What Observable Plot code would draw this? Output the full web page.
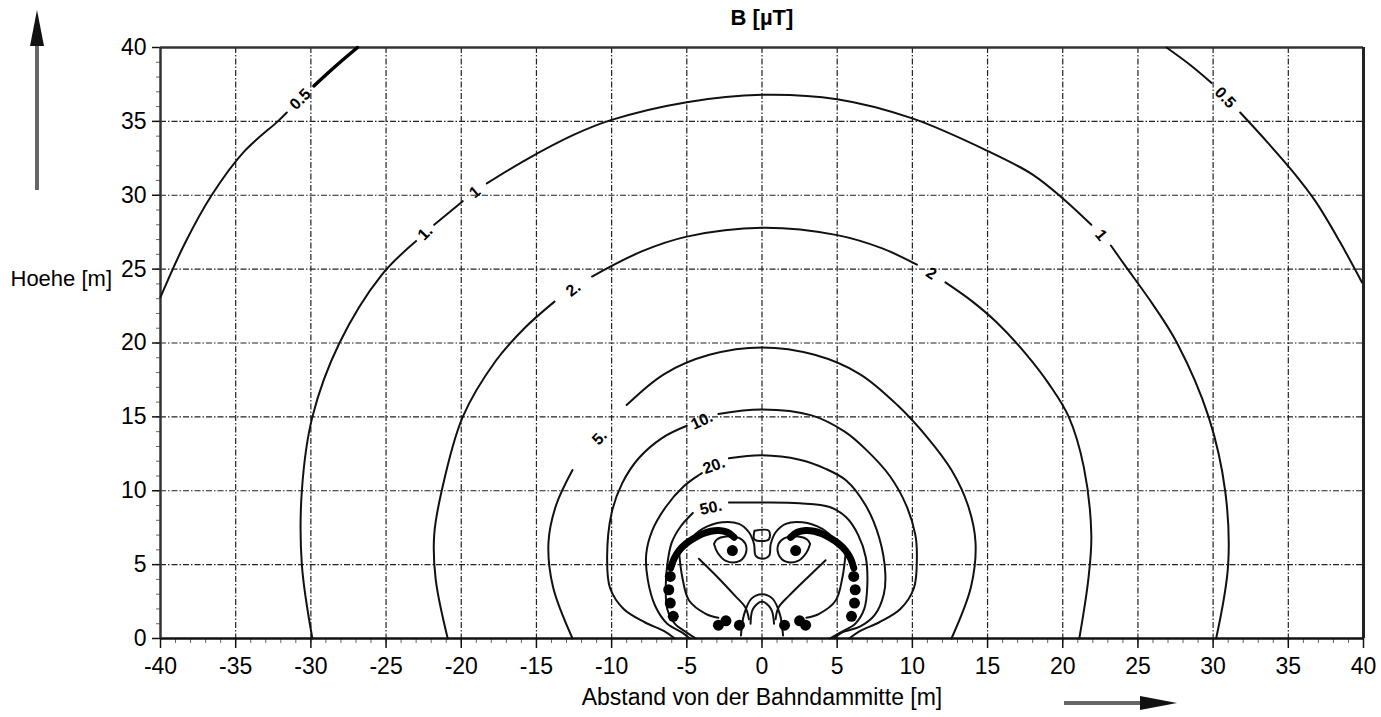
<!DOCTYPE html>
<html><head><meta charset="utf-8">
<script src="https://cdn.jsdelivr.net/npm/d3@7"></script>
<script src="https://cdn.jsdelivr.net/npm/@observablehq/plot@0.6"></script>
<style>body{margin:0;background:#fff} svg{display:block}</style>
</head><body><div id="chart"></div>
<script>
// ---- axis ticks ----
const xTicks = [-40,-35,-30,-25,-20,-15,-10,-5,0,5,10,15,20,25,30,35,40];
const yTicks = [0,5,10,15,20,25,30,35,40];
const gridX = [-35,-30,-25,-20,-15,-10,-5,0,5,10,15,20,25,30,35];
const gridY = [5,10,15,20,25,30,35];

// ---- contour lines: [x, y] in m ----
const c05L_a = [[-40,23.1],[-38.4,26.7],[-36.6,30.0],[-34.4,33.0],[-32.2,35.0],[-31.6,35.6]];
const c05L_b = [[-29.8,37.4],[-28.4,38.7],[-26.9,40]];
const c05R_a = [[26.9,40],[28.5,38.8],[29.9,37.6]];
const c05R_b = [[31.8,35.6],[33.6,33.6],[35.3,31.6],[36.8,29.6],[38.4,26.9],[39.9,24.1]];

const c1_a = [[-29.9,0],[-30.6,5],[-30.6,10],[-29.9,15],[-28.1,20],[-25.3,24.6],[-23.0,26.9]];
const c1_b = [[-21.8,28.0],[-19.9,29.6]];
const c1_c = [[-18.3,30.8],[-15.7,32.4],[-12.5,34.1],[-10,35.1],[-5,36.3],[0,36.8],[5,36.5],[10,35.2],[15,33.0],[18,31.4],[20.1,29.7],[21.9,28.0]];
const c1_d = [[23.2,26.6],[24.1,25.3],[26,22.6],[27.6,20],[29.7,15],[30.8,10],[31,5],[30.2,0]];

const c2_a = [[-20.9,0],[-21.7,4],[-21.8,7],[-21.3,10],[-19.9,15],[-17.7,18.8],[-15.8,21],[-13.8,22.8]];
const c2_b = [[-11.3,24.5],[-8,26.2],[-5,27.2],[0,27.8],[5,27.3],[8,26.4],[10.3,25.3]];
const c2_c = [[12.2,24.1],[14,22.8],[15.6,21.4],[17.6,19.2],[19.1,17.2],[20.4,15],[21.4,11.6],[21.9,7],[21.7,4],[21.1,0]];

const c5_a = [[-12.6,0],[-13.9,3.5],[-14.2,6.5],[-13.7,9],[-12.6,11.4]];
const c5_b = [[-9.0,15.8],[-6.5,17.9],[-3.5,19.2],[0,19.7],[3.5,19.2],[6.5,17.9],[9,15.8],[11,13.6],[12.6,11.4],[13.7,9],[14.2,6.5],[13.9,3.5],[12.6,0]];

const c10_a = [[-5.8,0],[-6.5,0.5],[-7.8,1.1],[-9.2,2.0],[-10.1,3.4],[-10.3,5.5],[-10,8.5],[-9.3,10.5],[-8.2,12.2],[-6.6,13.6],[-5.0,14.4]];
const c10_b = [[-2.9,15.2],[0,15.5],[3.3,15.1],[5.5,14.0],[6.9,12.8],[8.5,11],[9.6,9],[10.2,7],[10.3,5.5],[10.1,3.4],[9.2,2.0],[7.8,1.1],[6.5,0.5],[5.8,0]];

const c20_a = [[-4.8,0],[-5.3,0.4],[-6.3,1.0],[-7.1,2.2],[-7.6,4],[-7.7,5.7],[-7.3,7.3],[-6.4,8.9],[-5.2,10.3],[-4.0,11.2]];
const c20_b = [[-2.2,12.2],[0,12.4],[2.5,12.1],[4.2,11.5],[5.6,10.7],[6.9,9],[7.8,6.8],[8.2,4.4],[8.1,3.0],[7.5,1.6],[6.5,0.8],[5.3,0.4],[4.8,0]];

const c50_a = [[-4.6,8.5],[-5.4,7.6],[-6.0,6.5],[-6.3,5.0],[-6.4,3.5],[-6.3,2.0],[-5.8,1.0],[-5.0,0.4],[-4.4,0]];
const c50_b = [[-2.2,9.2],[0,9.2],[2.5,9.15],[4.5,8.9],[5.6,8.2],[6.4,7.0],[6.9,5.5],[7.0,3.5],[6.8,2.0],[6.2,1.0],[5.2,0.4],[4.5,0]];

const lobeM = [[-5.5,5.7],[-4.85,6.63],[-3.96,7.42],[-2.64,7.87],[-1.53,7.76],[-0.87,7.19],[-0.53,6.4],[-0.42,5.6],[0,5.4],[0.47,5.6],[0.58,6.4],[0.91,7.19],[1.58,7.76],[2.68,7.87],[4.01,7.42],[4.9,6.63],[5.56,5.73]];
const lobeL_down = [[-5.5,5.7],[-5.3,4.15],[-4.85,2.57],[-3.74,1.67],[-2.9,1.4]];
const lobeR_down = [[5.56,5.73],[5.35,4.15],[4.9,2.57],[3.8,1.67],[2.95,1.4]];
const eyeL = [[-3.19,6.4],[-2.95,5.8],[-2.4,5.25],[-1.6,5.2],[-1.1,5.7],[-1.1,6.4],[-1.5,6.8],[-2.4,6.9],[-3.0,6.7],[-3.19,6.4]];
const eyeR = [[3.2,6.4],[2.95,5.8],[2.4,5.25],[1.6,5.2],[1.1,5.7],[1.1,6.4],[1.5,6.8],[2.4,6.9],[3.0,6.7],[3.2,6.4]];
const centreBox = [[-0.5,7.3],[0.45,7.3],[0.45,6.7],[-0.5,6.7],[-0.5,7.3]];
const diagL = [[-4.2,5.4],[-3.0,4.2],[-1.8,2.9],[-1.1,2.1],[-0.87,1.3]];
const diagR = [[4.23,5.3],[3.0,4.1],[1.8,2.9],[1.1,2.1],[0.9,1.3]];
const archSmall = [[-0.76,1.0],[-0.6,2.0],[0,2.5],[0.6,2.0],[0.8,1.0]];
const archLarge = [[-1.4,0.2],[-1.2,1.6],[-0.7,2.7],[0,3.0],[0.7,2.7],[1.2,1.6],[1.4,0.2]];

// thick (densely labelled) arcs round the conductors
const thickL = [[-6.07,4.78],[-5.85,5.39],[-5.52,5.95],[-5.08,6.40],[-4.52,6.78],[-3.96,7.08],[-3.41,7.26],[-2.86,7.31],[-2.3,7.19],[-1.86,6.85]];
const thickR = [[6.1,4.78],[5.9,5.39],[5.56,5.95],[5.12,6.40],[4.56,6.78],[4.0,7.08],[3.46,7.26],[2.9,7.31],[2.35,7.19],[1.9,6.85]];
const boldTop05 = c05L_b;

// big dots (conductor markers)
const dotX = [-6.1,-6.2,-6.1,-5.9,6.1,6.2,6.15,5.95,-2.9,-2.4,-1.5,1.5,2.5,2.9,-1.97,2.24];
const dotY = [4.2,3.3,2.4,1.5,4.2,3.3,2.4,1.5,0.9,1.2,0.9,0.9,1.2,0.9,5.95,5.95];

// contour labels
const labText = ["0.5","0.5","1.","1","1","2.","2","5.","10.","20.","50."];
const labX = [-30.7,30.8,-22.4,-19.1,22.55,-12.55,11.25,-10.8,-4.0,-3.2,-3.4];
const labY = [36.5,36.6,27.45,30.2,27.3,23.65,24.7,13.6,14.75,11.7,8.85];
const labRot = [-45,47,-46,-40,50,-37,32,-45,-25,-20,-12];

// ---- build tables ----
const thin = [c05L_a,c05R_a,c05R_b,c1_a,c1_b,c1_c,c1_d,c2_a,c2_b,c2_c,c5_a,c5_b,c10_a,c10_b,c20_a,c20_b,c50_a,c50_b,lobeM,lobeL_down,lobeR_down,eyeL,eyeR,centreBox,diagL,diagR,archSmall,archLarge];
const toRows = list => list.flatMap((pts,i)=>pts.map(([x,y])=>({x,y,id:i})));
const thinRows = toRows(thin);
const boldRows = toRows([boldTop05]);
const thickRows = toRows([thickL,thickR]);
const dots = dotX.map((x,i)=>({x,y:dotY[i]}));
const labels = labText.map((t,i)=>({t,x:labX[i],y:labY[i],r:labRot[i]}));
const fmt = d => `${d}`;

const plot = Plot.plot({
  width:1381, height:717,
  marginLeft:160, marginRight:18, marginTop:47, marginBottom:79,
  x:{domain:[-40,40], label:null}, y:{domain:[0,40], label:null},
  style:{fontFamily:"'Liberation Sans', Arial, sans-serif", fontSize:"22px", color:"#111", background:"#fff"},
  marks:[
    Plot.ruleX(gridX,{stroke:"#222",strokeWidth:1.2,strokeDasharray:"6,2,1.5,2"}),
    Plot.ruleY(gridY,{stroke:"#222",strokeWidth:1.2,strokeDasharray:"6,2,1.5,2"}),
    Plot.axisX({ticks:d3.range(-40,41,1),tickSize:5,tickFormat:()=>"",label:null,stroke:"#666"}),
    Plot.axisY({ticks:d3.range(0,41,1),tickSize:4,tickFormat:()=>"",label:null,stroke:"#666"}),
    Plot.axisX({ticks:xTicks,tickFormat:fmt,tickSize:10,tickPadding:9,label:null,fontSize:23,letterSpacing:1.4,strokeWidth:1.5,fill:"#000"}),
    Plot.axisY({ticks:yTicks,tickFormat:fmt,tickSize:8,tickPadding:6,label:null,fontSize:23,letterSpacing:1.2,strokeWidth:1.5,fill:"#000"}),
    Plot.ruleY([0],{stroke:"#111",strokeWidth:2.5}),
    Plot.ruleY([40],{stroke:"#333",strokeWidth:2.5}),
    Plot.ruleX([-40],{stroke:"#333",strokeWidth:2.5}),
    Plot.ruleX([40],{stroke:"#222",strokeWidth:3}),
    Plot.line(thinRows,{x:"x",y:"y",z:"id",stroke:"#111",strokeWidth:2,curve:"catmull-rom"}),
    Plot.line(boldRows,{x:"x",y:"y",z:"id",stroke:"#000",strokeWidth:3.5,curve:"catmull-rom"}),
    Plot.line(thickRows,{x:"x",y:"y",z:"id",stroke:"#000",strokeWidth:7,strokeLinecap:"round",curve:"catmull-rom"}),
    Plot.dot(dots,{x:"x",y:"y",r:5.5,fill:"#000"}),
    Plot.text(labels,{x:"x",y:"y",text:"t",rotate:"r",fontSize:16,fontWeight:"bold",fill:"#000"}),
    Plot.text(["B [\u00b5T]"],{frameAnchor:"top",lineAnchor:"middle",dy:-30,fontSize:22,fontWeight:"bold",fill:"#000"}),
    Plot.text(["Abstand von der Bahndammitte [m]"],{frameAnchor:"bottom",lineAnchor:"middle",dy:59,fontSize:23,letterSpacing:0.7,fill:"#000"}),
    Plot.text(["Hoehe [m]"],{frameAnchor:"left",lineAnchor:"middle",dx:-150,dy:-64,textAnchor:"start",fontSize:22,letterSpacing:1.8,fill:"#000"})
  ]
});
document.getElementById("chart").append(plot);

// direction arrows (decoration)
const svg = d3.select(plot);
svg.append("line").attr("x1",37).attr("y1",190).attr("x2",37).attr("y2",44).attr("stroke","#666").attr("stroke-width",4);
svg.append("path").attr("d","M37,10 L30,46 L44,46 Z").attr("fill","#111");
svg.append("line").attr("x1",1064).attr("y1",703).attr("x2",1142).attr("y2",703).attr("stroke","#666").attr("stroke-width",4);
svg.append("path").attr("d","M1177,703 L1140,696 L1140,710 Z").attr("fill","#111");
</script>
</body></html>
